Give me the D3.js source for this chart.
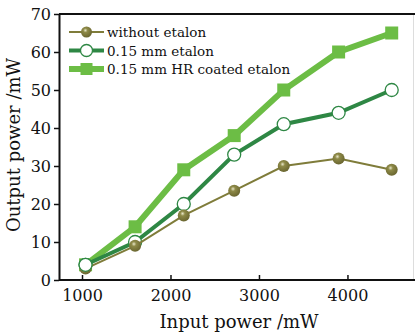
<!DOCTYPE html>
<html>
<head>
<meta charset="utf-8">
<script src="https://cdn.jsdelivr.net/npm/d3@7"></script>
<style>
  body { margin:0; background:#fff; }
  svg { display:block; font-family:"DejaVu Serif", serif; }
</style>
</head>
<body>
<svg id="chart"></svg>
<script>
var width = 415, height = 334;
var margin = {top:14, left:59, right:1, bottom:54};

// data
var inputPower = [1040, 1600, 2150, 2720, 3280, 3900, 4500];
var withoutEtalon = [3, 9, 17, 23.5, 30, 32, 29];
var etalon015 = [4, 10, 20, 33, 41, 44, 50];
var hrEtalon = [4, 14, 29, 38, 50, 60, 65];
var seriesNames = ['without etalon', '0.15 mm etalon', '0.15 mm HR coated etalon'];
var xTicks = [1000, 2000, 3000, 4000];
var yTicks = [0, 10, 20, 30, 40, 50, 60, 70];

var svg = d3.select('#chart').attr('width', width).attr('height', height);

var xscale = d3.scaleLinear().domain([740, 4752]).range([margin.left, width - margin.right]);
var yscale = d3.scaleLinear().domain([0, 70]).range([height - margin.bottom, margin.top]);

// gradient for the ball markers
var defs = svg.append('defs');
var grad = defs.append('radialGradient').attr('id', 'ball').attr('cx', '40%').attr('cy', '35%').attr('r', '65%');
grad.append('stop').attr('offset', '0%').attr('stop-color', '#e8e6c8');
grad.append('stop').attr('offset', '30%').attr('stop-color', '#8e8a48');
grad.append('stop').attr('offset', '100%').attr('stop-color', '#6a6630');

// frame
svg.append('line').attr('x1', width - 1.5).attr('x2', width - 1.5)
  .attr('y1', margin.top).attr('y2', height - margin.bottom)
  .attr('stroke', '#ddd').attr('stroke-width', 1);
svg.append('line').attr('x1', margin.left).attr('x2', width)
  .attr('y1', margin.top).attr('y2', margin.top)
  .attr('stroke', '#111').attr('stroke-width', 2);

// axes
var xaxis = d3.axisBottom(xscale).tickValues(xTicks).tickFormat(d3.format('d'))
  .tickSizeInner(-5).tickSizeOuter(0).tickPadding(10);
var yaxis = d3.axisLeft(yscale).tickValues(yTicks).tickFormat(d3.format('d'))
  .tickSizeInner(5).tickSizeOuter(0).tickPadding(3);

var gx = svg.append('g').attr('transform', 'translate(0,' + (height - margin.bottom) + ')').call(xaxis);
var gy = svg.append('g').attr('transform', 'translate(' + margin.left + ',0)').call(yaxis);
[gx, gy].forEach(function(g){
  g.select('.domain').attr('stroke', '#111').attr('stroke-width', 2);
  g.selectAll('.tick line').attr('stroke', '#111').attr('stroke-width', 1.5);
  g.selectAll('.tick text').attr('fill', '#111').style('font-family', '"DejaVu Serif", serif').style('font-size', '16px');
});
gx.select('.domain').attr('d', 'M' + margin.left + ',0H' + width);

svg.append('text').attr('x', 239).attr('y', 328).attr('text-anchor', 'middle')
  .style('font-size', '18px').attr('fill', '#111').text('Input power /mW');
svg.append('text').attr('transform', 'translate(20,145) rotate(-90)').attr('text-anchor', 'middle')
  .style('font-size', '18px').attr('fill', '#111').text('Output power /mW');

var line = d3.line().x(function(d){ return xscale(d.x); }).y(function(d){ return yscale(d.y); });
function pts(vals){ return vals.map(function(v, i){ return {x: inputPower[i], y: v}; }); }

var series = [
  {name: seriesNames[0], vals: withoutEtalon, color: '#7f7c3a', w: 2, marker: 'ball'},
  {name: seriesNames[1], vals: etalon015, color: '#2e8744', w: 4, marker: 'open'},
  {name: seriesNames[2], vals: hrEtalon, color: '#6cbd45', w: 6, marker: 'square'}
];

function drawMarker(g, type, color, x, y, r){
  r = r || 6;
  if (type === 'ball') {
    g.append('circle').attr('cx', x).attr('cy', y).attr('r', r).attr('fill', 'url(#ball)');
  } else if (type === 'open') {
    g.append('circle').attr('cx', x).attr('cy', y).attr('r', r + 0.5).attr('fill', '#fff')
      .attr('stroke', color).attr('stroke-width', 1.3);
  } else {
    g.append('rect').attr('x', x - r - 0.5).attr('y', y - r - 0.5).attr('width', 2 * r + 1).attr('height', 2 * r + 1).attr('fill', color);
  }
}

// draw back to front: HR, etalon, without
var order = [2, 1, 0];
order.forEach(function(k){
  var s = series[k];
  var g = svg.append('g');
  g.append('path').datum(pts(s.vals)).attr('d', line).attr('fill', 'none')
    .attr('stroke', s.color).attr('stroke-width', s.w);
  pts(s.vals).forEach(function(p){ drawMarker(g, s.marker, s.color, xscale(p.x), yscale(p.y)); });
});
// open circle of etalon goes above the olive ball at the first point
var gTop = svg.append('g');
pts(etalon015).slice(0, 1).forEach(function(p){ drawMarker(gTop, 'open', series[1].color, xscale(p.x), yscale(p.y)); });

// legend
var legend = svg.append('g');
series.forEach(function(s, i){
  var y = 32 + i * 18.5;
  legend.append('line').attr('x1', 69).attr('x2', 104).attr('y1', y).attr('y2', y)
    .attr('stroke', s.color).attr('stroke-width', s.w);
  drawMarker(legend, s.marker, s.color, 86.5, y, 5.5);
  legend.append('text').attr('x', 107).attr('y', y + 5).style('font-size', '13.5px')
    .attr('fill', '#111').text(s.name);
});
</script>
</body>
</html>
